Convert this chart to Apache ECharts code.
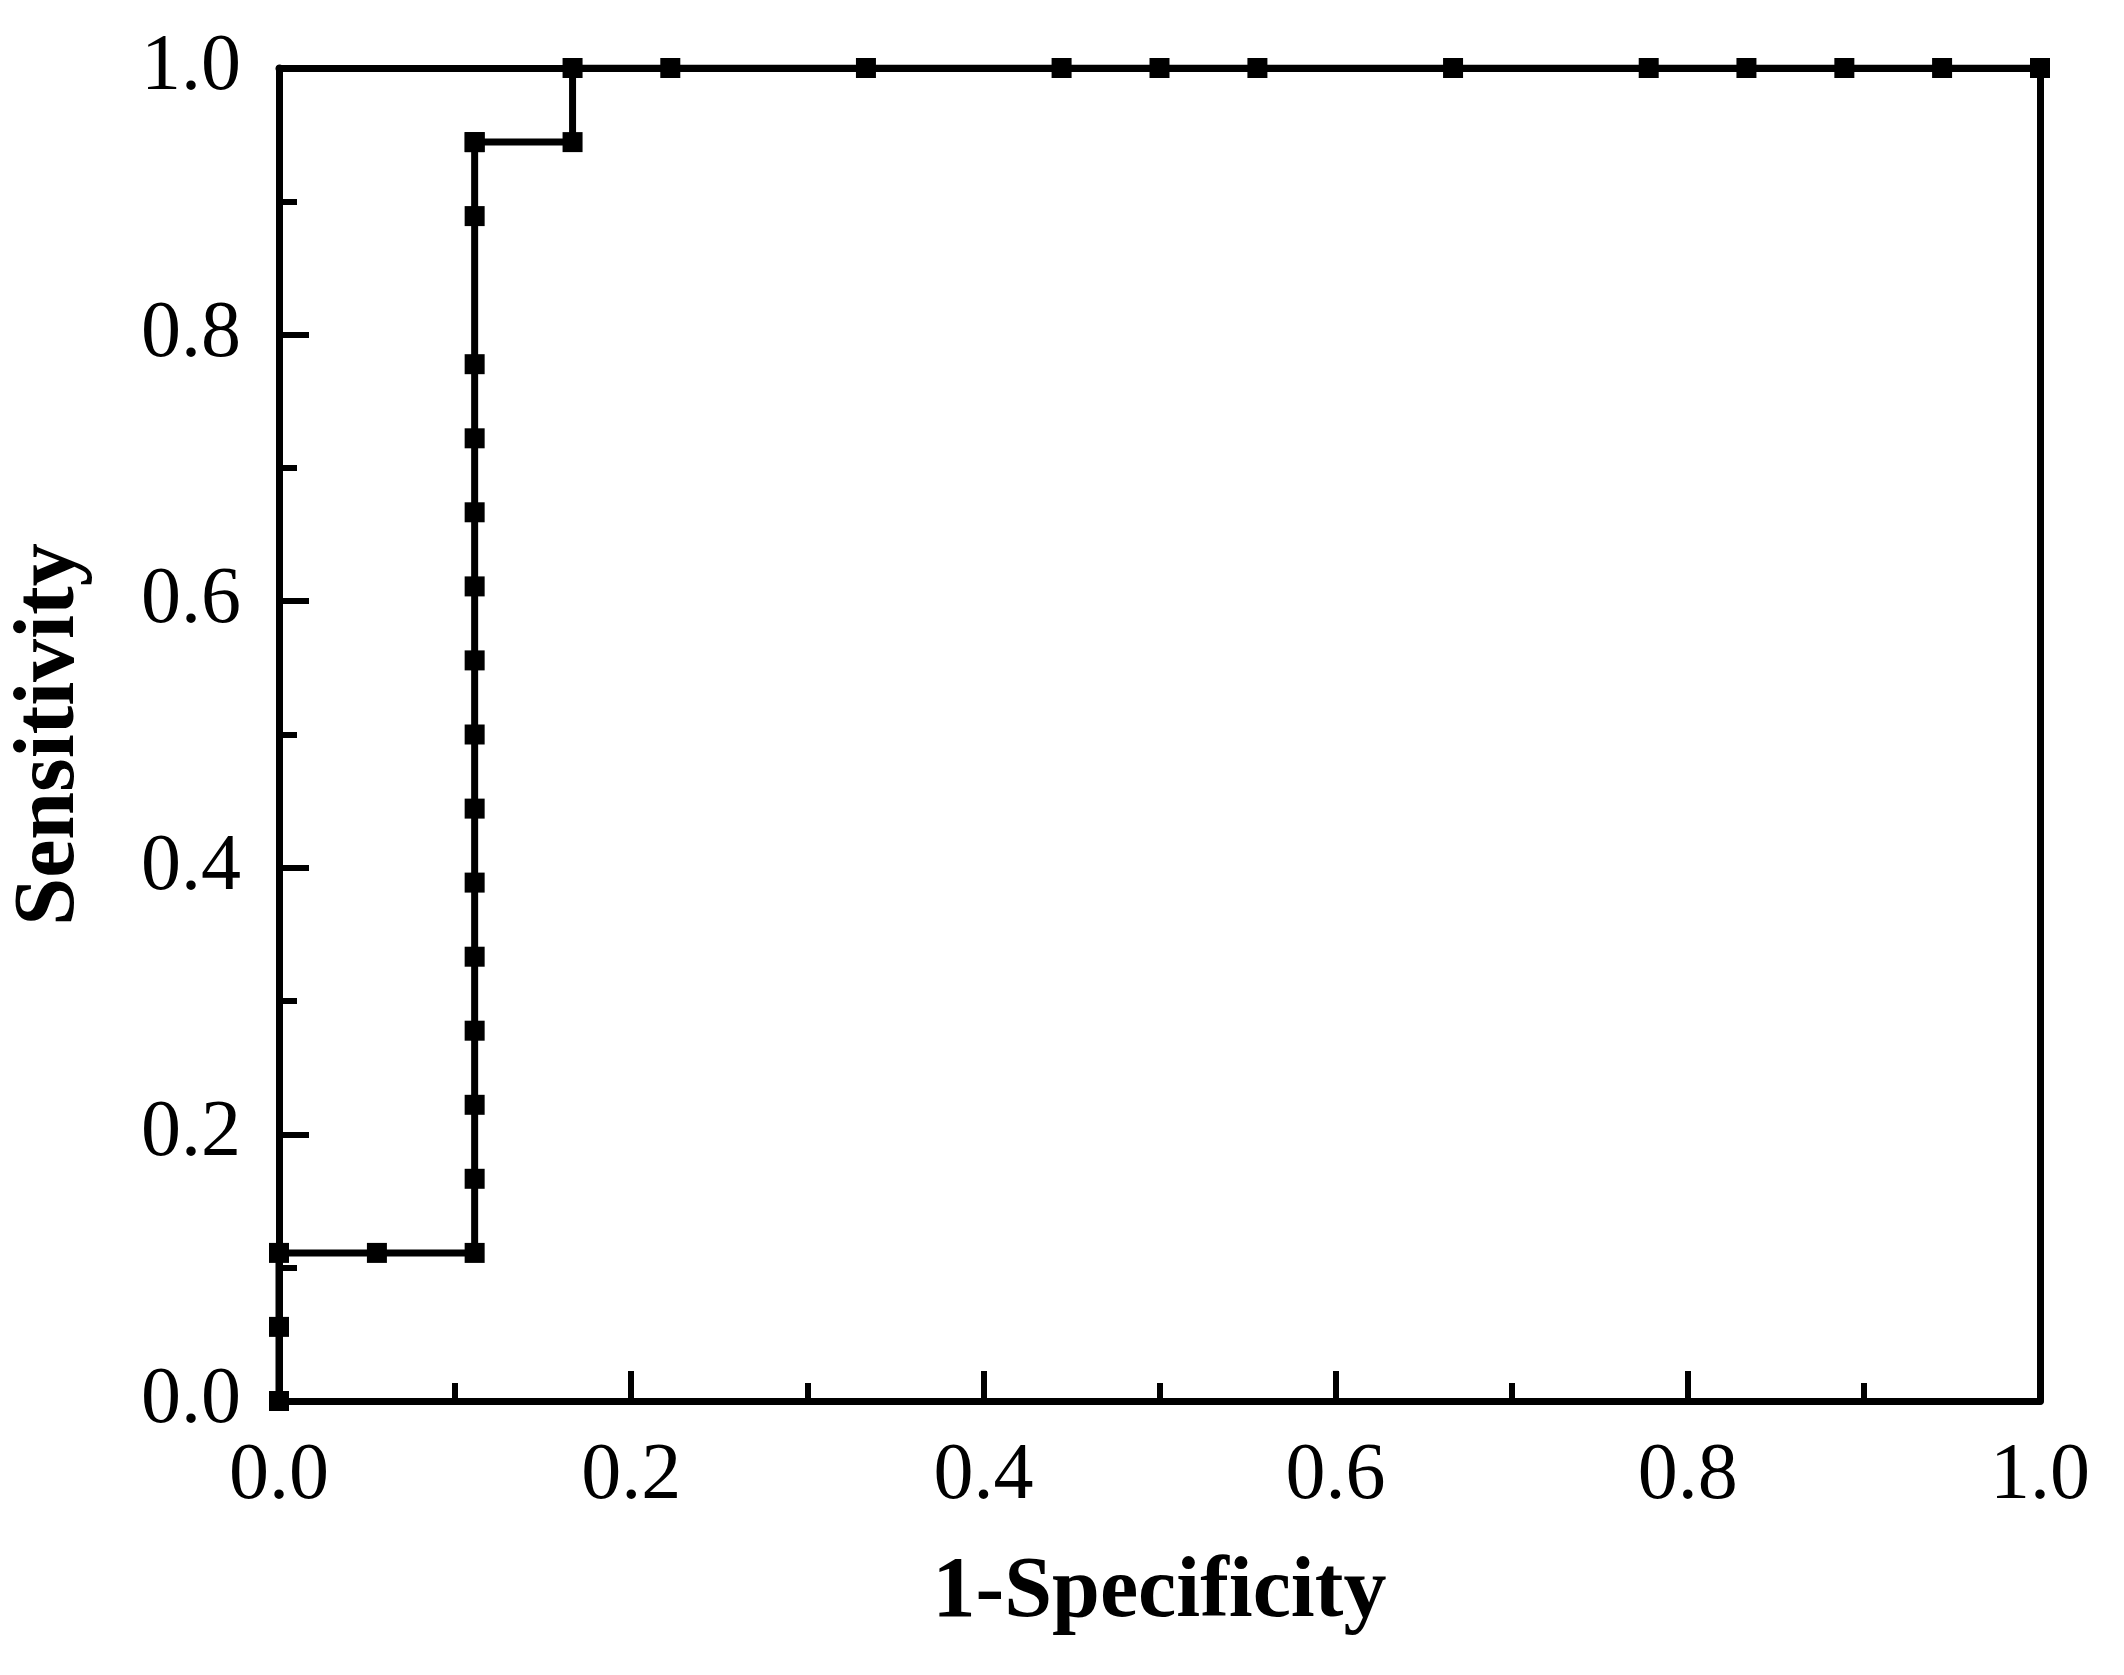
<!DOCTYPE html>
<html><head><meta charset="utf-8">
<script src="https://cdn.jsdelivr.net/npm/echarts@6/dist/echarts.min.js"></script>
<style>html,body{margin:0;background:#fff}#c{width:2124px;height:1675px}</style>
</head><body><div id="c"></div>
<script>
// ROC points (1-Specificity, Sensitivity)
const fpr = [0, 0, 0, 0.0556, 0.1111, 0.1111, 0.1111, 0.1111, 0.1111, 0.1111, 0.1111, 0.1111, 0.1111, 0.1111, 0.1111, 0.1111, 0.1111, 0.1111, 0.1111, 0.1111, 0.1667, 0.1667, 0.2222, 0.3333, 0.4444, 0.5, 0.5556, 0.6667, 0.7778, 0.8333, 0.8889, 0.9444, 1.0];
const tpr = [0, 0.0556, 0.1111, 0.1111, 0.1111, 0.1667, 0.2222, 0.2778, 0.3333, 0.3889, 0.4444, 0.5, 0.5556, 0.6111, 0.6667, 0.7222, 0.7778, 0.8889, 0.9444, 0.9444, 0.9444, 1, 1, 1, 1, 1, 1, 1, 1, 1, 1, 1, 1];
const tickLabels = ["0.0", "0.2", "0.4", "0.6", "0.8", "1.0"];

const font = "Liberation Serif";
const fmt = v => tickLabels[Math.round(v * 5)];
const axisCommon = {
  type: "value", min: 0, max: 1, interval: 0.2,
  axisLine: { show: true, onZero: false, lineStyle: { color: "#000", width: 7 } },
  axisTick: { show: true, inside: true, length: 30, lineStyle: { color: "#000", width: 6 } },
  minorTick: { show: true, splitNumber: 2, length: 18, lineStyle: { color: "#000", width: 6 } },
  splitLine: { show: false },
  axisLabel: { color: "#000", fontFamily: font, fontSize: 80, formatter: fmt },
  nameLocation: "middle",
  nameTextStyle: { color: "#000", fontFamily: font, fontSize: 86, fontWeight: "bold" }
};
const boxAxis = {
  type: "value", min: 0, max: 1,
  axisLine: { show: true, onZero: false, lineStyle: { color: "#000", width: 7 } },
  axisTick: { show: false }, axisLabel: { show: false }, splitLine: { show: false }
};

const chart = echarts.init(document.getElementById("c"));
chart.setOption({
  animation: false,
  grid: { left: 276, right: 84, top: 68, bottom: 274 },
  xAxis: [
    Object.assign({}, axisCommon, { name: "1-Specificity", nameGap: 150, axisLabel: Object.assign({}, axisCommon.axisLabel, { margin: 36 }) }),
    Object.assign({}, boxAxis, { position: "top" })
  ],
  yAxis: [
    Object.assign({}, axisCommon, { name: "Sensitivity", nameGap: 185, axisLabel: Object.assign({}, axisCommon.axisLabel, { margin: 38 }) }),
    Object.assign({}, boxAxis, { position: "right" })
  ],
  series: [{
    type: "line",
    data: fpr.map((x, i) => [x, tpr[i]]),
    symbol: "rect", symbolSize: 20,
    lineStyle: { color: "#000", width: 7 },
    itemStyle: { color: "#000" }
  }]
});
</script></body></html>
